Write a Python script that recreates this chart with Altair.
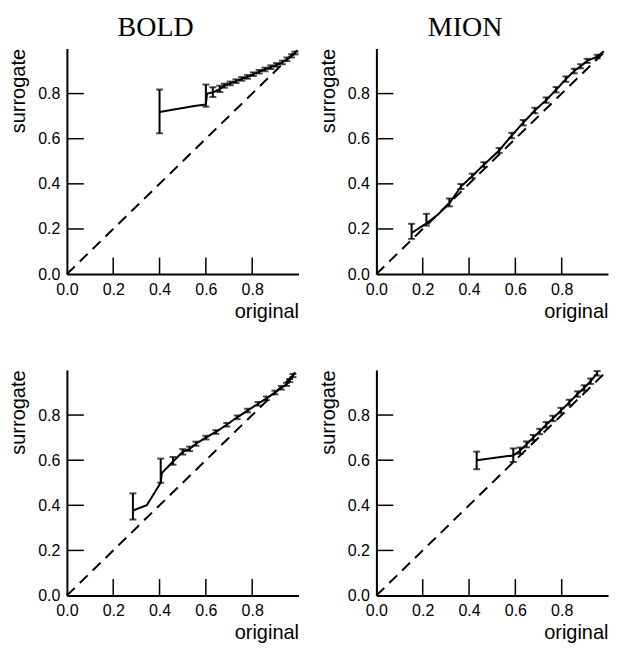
import altair as alt
import pandas as pd

# ---- data ----
tick_vals = [0.0, 0.2, 0.4, 0.6, 0.8]
diag = [0.0, 1.0]

# BOLD (top)
b1_x = [0.40, 0.55, 0.60, 0.605, 0.63, 0.66, 0.68, 0.705, 0.73, 0.755, 0.78, 0.805, 0.83, 0.855, 0.88, 0.905, 0.93, 0.95, 0.97, 0.985, 0.995]
b1_y = [0.718, 0.745, 0.752, 0.80, 0.805, 0.82, 0.835, 0.845, 0.855, 0.865, 0.874, 0.886, 0.897, 0.907, 0.917, 0.927, 0.938, 0.952, 0.967, 0.98, 0.992]
b1_ex = [0.40, 0.60, 0.63, 0.66, 0.68, 0.705, 0.73, 0.755, 0.78, 0.805, 0.83, 0.855, 0.88, 0.905, 0.93, 0.95, 0.97, 0.985]
b1_lo = [0.624, 0.742, 0.785, 0.807, 0.826, 0.837, 0.847, 0.857, 0.866, 0.878, 0.889, 0.899, 0.909, 0.919, 0.93, 0.944, 0.96, 0.974]
b1_hi = [0.818, 0.840, 0.828, 0.835, 0.844, 0.853, 0.863, 0.873, 0.882, 0.894, 0.905, 0.915, 0.925, 0.935, 0.946, 0.96, 0.974, 0.986]

# MION (top)
m1_x = [0.152, 0.209, 0.265, 0.315, 0.365, 0.414, 0.464, 0.53, 0.584, 0.634, 0.684, 0.733, 0.776, 0.818, 0.854, 0.882, 0.91, 0.953, 0.982]
m1_y = [0.182, 0.22, 0.263, 0.313, 0.388, 0.435, 0.485, 0.548, 0.614, 0.671, 0.725, 0.771, 0.817, 0.864, 0.90, 0.921, 0.945, 0.964, 0.988]
m1_ex = [0.152, 0.216, 0.315, 0.365, 0.414, 0.464, 0.53, 0.584, 0.634, 0.684, 0.733, 0.776, 0.818, 0.854, 0.882, 0.91, 0.953]
m1_lo = [0.156, 0.215, 0.300, 0.377, 0.425, 0.474, 0.537, 0.602, 0.659, 0.713, 0.759, 0.805, 0.852, 0.89, 0.912, 0.936, 0.956]
m1_hi = [0.223, 0.267, 0.335, 0.399, 0.445, 0.496, 0.559, 0.626, 0.683, 0.737, 0.783, 0.829, 0.876, 0.91, 0.930, 0.954, 0.972]

# BOLD (bottom)
b2_x = [0.285, 0.345, 0.405, 0.41, 0.45, 0.50, 0.53, 0.557, 0.60, 0.643, 0.69, 0.735, 0.78, 0.825, 0.862, 0.898, 0.926, 0.948, 0.962, 0.976, 0.985]
b2_y = [0.377, 0.40, 0.50, 0.543, 0.585, 0.637, 0.65, 0.673, 0.70, 0.725, 0.757, 0.79, 0.82, 0.85, 0.874, 0.90, 0.921, 0.936, 0.953, 0.975, 0.99]
b2_ex = [0.285, 0.405, 0.458, 0.50, 0.53, 0.557, 0.60, 0.643, 0.69, 0.735, 0.78, 0.825, 0.862, 0.898, 0.926, 0.948, 0.962, 0.976]
b2_lo = [0.337, 0.50, 0.58, 0.625, 0.64, 0.664, 0.692, 0.717, 0.749, 0.782, 0.812, 0.842, 0.866, 0.892, 0.913, 0.929, 0.946, 0.968]
b2_hi = [0.453, 0.607, 0.614, 0.649, 0.66, 0.682, 0.708, 0.733, 0.765, 0.798, 0.828, 0.858, 0.882, 0.908, 0.929, 0.943, 0.960, 0.982]

# MION (bottom)
m2_x = [0.433, 0.591, 0.62, 0.648, 0.677, 0.705, 0.733, 0.762, 0.797, 0.833, 0.868, 0.897, 0.925, 0.953]
m2_y = [0.60, 0.621, 0.642, 0.67, 0.70, 0.727, 0.757, 0.785, 0.82, 0.856, 0.893, 0.92, 0.95, 0.985]
m2_ex = [0.433, 0.591, 0.62, 0.648, 0.677, 0.705, 0.733, 0.762, 0.797, 0.833, 0.868, 0.897, 0.925, 0.953]
m2_lo = [0.56, 0.592, 0.628, 0.657, 0.688, 0.715, 0.745, 0.773, 0.808, 0.844, 0.881, 0.908, 0.938, 0.975]
m2_hi = [0.638, 0.652, 0.656, 0.683, 0.712, 0.739, 0.769, 0.797, 0.832, 0.868, 0.905, 0.932, 0.962, 0.995]

W, H = 232, 226
TICK_LEN = 0.073  # inward tick length in data units
SANS = "Liberation Sans"
SERIF = "Liberation Serif"


def panel(lx, ly, ex, lo, hi, title=None):
    xs = alt.Scale(domain=[0, 1], nice=False, zero=False)
    ys = alt.Scale(domain=[0, 1], nice=False, zero=False)
    xax = alt.Axis(values=tick_vals, format=".1f", title="original", titleAnchor="end",
                   labelPadding=7, titlePadding=4, labelFlush=False)
    yax = alt.Axis(values=tick_vals, format=".1f", title="surrogate", titleAnchor="end",
                   labelPadding=7, titlePadding=9, labelFlush=False)

    d_diag = pd.DataFrame({"x": diag, "y": diag})
    d_line = pd.DataFrame({"x": lx, "y": ly})
    d_err = pd.DataFrame({"x": ex, "lo": lo, "hi": hi})
    d_ticks = pd.DataFrame({"t": tick_vals[1:], "a": [0.0] * 4, "b": [TICK_LEN] * 4})

    dash = alt.Chart(d_diag).mark_line(color="black", strokeWidth=2, strokeDash=[11, 7]).encode(
        x=alt.X("x:Q", scale=xs, axis=xax),
        y=alt.Y("y:Q", scale=ys, axis=yax),
    )
    line = alt.Chart(d_line).mark_line(color="black", strokeWidth=2).encode(
        x=alt.X("x:Q", scale=xs), y=alt.Y("y:Q", scale=ys)
    )
    bars = alt.Chart(d_err).mark_rule(color="black", strokeWidth=2).encode(
        x=alt.X("x:Q", scale=xs), y=alt.Y("lo:Q", scale=ys), y2="hi:Q"
    )
    cap_lo = alt.Chart(d_err).mark_tick(color="black", orient="horizontal", size=7, thickness=2).encode(
        x=alt.X("x:Q", scale=xs), y=alt.Y("lo:Q", scale=ys)
    )
    cap_hi = alt.Chart(d_err).mark_tick(color="black", orient="horizontal", size=7, thickness=2).encode(
        x=alt.X("x:Q", scale=xs), y=alt.Y("hi:Q", scale=ys)
    )
    xt = alt.Chart(d_ticks).mark_rule(color="black", strokeWidth=1.5).encode(
        x=alt.X("t:Q", scale=xs), y=alt.Y("a:Q", scale=ys), y2="b:Q"
    )
    yt = alt.Chart(d_ticks).mark_rule(color="black", strokeWidth=1.5).encode(
        y=alt.Y("t:Q", scale=ys), x=alt.X("a:Q", scale=xs), x2="b:Q"
    )
    ch = alt.layer(dash, line, bars, cap_lo, cap_hi, xt, yt)
    if title:
        ch = ch.properties(width=W, height=H,
                           title=alt.Title(title, font=SERIF, fontSize=28, fontWeight="normal",
                                           frame="bounds", anchor="middle", offset=2,
                                           color="black"))
    else:
        ch = ch.properties(width=W, height=H)
    return ch


top = alt.hconcat(
    panel(b1_x, b1_y, b1_ex, b1_lo, b1_hi, "BOLD"),
    panel(m1_x, m1_y, m1_ex, m1_lo, m1_hi, "MION"),
    spacing=14,
)
bottom = alt.hconcat(
    panel(b2_x, b2_y, b2_ex, b2_lo, b2_hi),
    panel(m2_x, m2_y, m2_ex, m2_lo, m2_hi),
    spacing=14,
)

chart = alt.vconcat(top, bottom, spacing=43).properties(
    padding={"top": 5, "left": 0, "right": 0, "bottom": 0}
).configure_view(
    stroke="transparent"
).configure_axis(
    ticks=False, grid=False, domainColor="black", domainWidth=2,
    labelFont=SANS, labelFontSize=16, labelColor="black",
    titleFont=SANS, titleFontSize=20, titleFontWeight="normal", titleColor="black",
)

chart.save("out.html", embed_options={"renderer": "svg", "actions": False})
